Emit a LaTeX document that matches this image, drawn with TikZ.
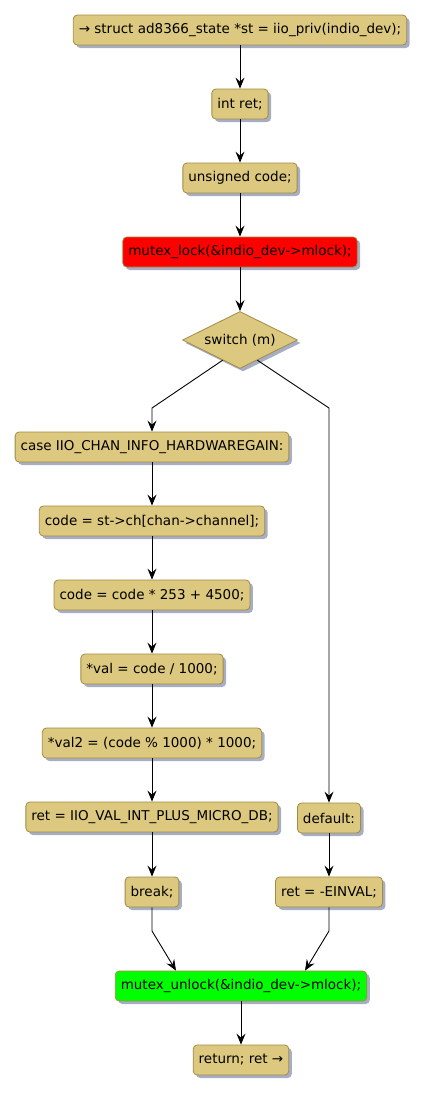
\documentclass[tikz,border=0pt]{standalone}
\usepackage{fontspec}
\setmainfont{DejaVu Sans}
\usetikzlibrary{arrows.meta,shapes.geometric,shadows,calc}
\definecolor{actfill}{HTML}{DCC87E}
\definecolor{actline}{HTML}{A08B45}
\definecolor{shadowcol}{HTML}{A7AEC4}
\begin{document}
\begin{tikzpicture}[x=1pt, y=-1pt, font=\fontsize{13.5}{16}\selectfont,
    act/.style={draw=actline, fill=actfill, rounded corners=4pt, minimum height=30pt,
      inner xsep=5.5pt, inner ysep=0pt, line width=0.8pt,
      drop shadow={shadow xshift=3pt, shadow yshift=-3pt, fill=shadowcol, opacity=1}},
    choice/.style={act, diamond, aspect=2, rounded corners=0pt, minimum width=115pt, minimum height=57pt, inner sep=0pt},
    flow/.style={line width=0.9pt, -{Stealth[length=11pt, width=9pt, inset=4pt]}}]
  \useasboundingbox (0,0) rectangle (426,1093);
  % main column
  \node[act] (priv)   at (240,30)  {→ struct ad8366\_state *st = iio\_priv(indio\_dev);};
  \node[act] (ret)    at (240,104) {int ret;};
  \node[act] (code)   at (240,178) {unsigned code;};
  \node[act, fill=red] (lock) at (240,252) {mutex\_lock(\&indio\_dev->mlock);};
  \node[choice] (sw)  at (240,340) {switch (m)};
  % case branch
  \node[act] (case)   at (152,447) {case IIO\_CHAN\_INFO\_HARDWAREGAIN:};
  \node[act] (chan)   at (152,521) {code = st->ch[chan->channel];};
  \node[act] (scale)  at (152,595) {code = code * 253 + 4500;};
  \node[act] (val)    at (152,669) {*val = code / 1000;};
  \node[act] (valb)   at (152,743) {*val2 = (code \% 1000) * 1000;};
  \node[act] (retdb)  at (152,817) {ret = IIO\_VAL\_INT\_PLUS\_MICRO\_DB;};
  \node[act] (brk)    at (152,892) {break;};
  % default branch
  \node[act] (dflt)   at (329,818) {default:};
  \node[act] (einval) at (329,892) {ret = -EINVAL;};
  % exit
  \node[act, fill=green] (unlock) at (241,986) {mutex\_unlock(\&indio\_dev->mlock);};
  \node[act] (rtn)    at (241,1060) {return; ret →};

  \coordinate (lsplit) at (152,408);
  \coordinate (rsplit) at (329,408);
  \coordinate (lmerge) at (152,931);
  \coordinate (rmerge) at (329,931);

  \draw[flow] (priv) -- (ret);
  \draw[flow] (ret) -- (code);
  \draw[flow] (code) -- (lock);
  \draw[flow] (lock) -- (sw);
  \draw[flow] ($(sw.west)!0.7!(sw.south)$) -- (lsplit) -- (case);
  \draw[flow] ($(sw.east)!0.7!(sw.south)$) -- (rsplit) -- (dflt);
  \draw[flow] (case) -- (chan);
  \draw[flow] (chan) -- (scale);
  \draw[flow] (scale) -- (val);
  \draw[flow] (val) -- (valb);
  \draw[flow] (valb) -- (retdb);
  \draw[flow] (retdb) -- (brk);
  \draw[flow] (dflt) -- (einval);
  \draw[flow] (brk) -- (lmerge) -- ($(unlock.north)+(-65,0)$);
  \draw[flow] (einval) -- (rmerge) -- ($(unlock.north)+(64,0)$);
  \draw[flow] (unlock) -- (rtn);
\end{tikzpicture}
\end{document}
